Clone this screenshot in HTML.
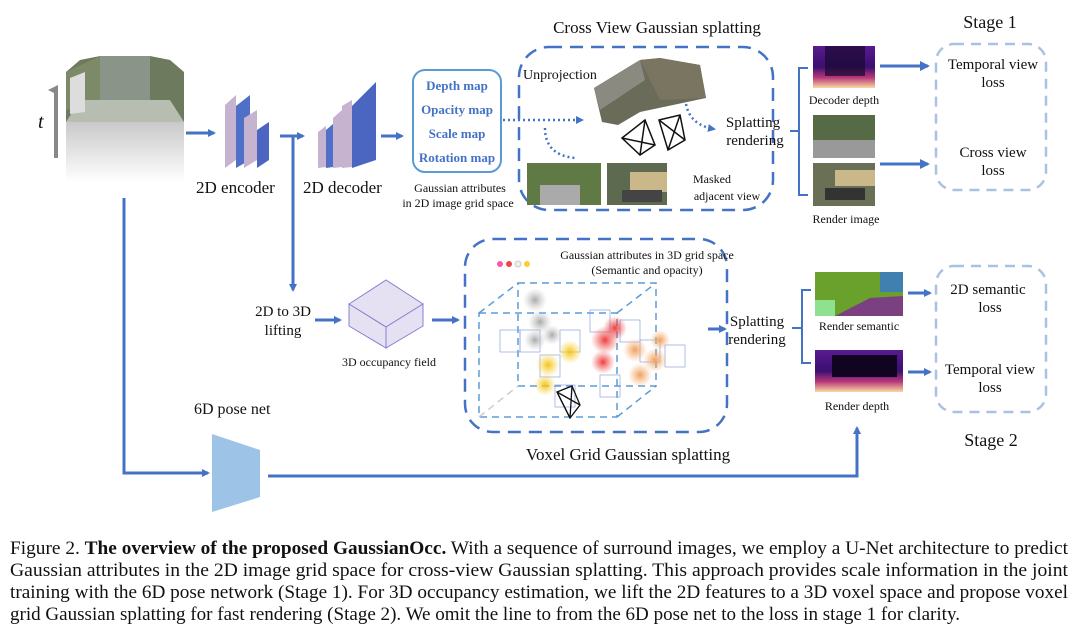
<!DOCTYPE html>
<html><head><meta charset="utf-8"><style>
html,body{margin:0;padding:0;background:#fff;width:1080px;height:632px;overflow:hidden}
svg{display:block}
text{font-family:"Liberation Serif",serif;fill:#111}
.b{fill:#4472C4;font-weight:bold;font-size:13px}
</style></head><body>
<svg width="1080" height="632" viewBox="0 0 1080 632" xmlns="http://www.w3.org/2000/svg">
<defs>
<marker id="ah" markerWidth="8" markerHeight="8" refX="6" refY="4" orient="auto" markerUnits="userSpaceOnUse"><path d="M0,0 L8,4 L0,8 Z" fill="#4472C4"/></marker>
<marker id="ah2" markerWidth="10" markerHeight="10" refX="8" refY="5" orient="auto" markerUnits="userSpaceOnUse"><path d="M0,0 L10,5 L0,10 Z" fill="#4472C4"/></marker>
<marker id="ag" markerWidth="10" markerHeight="10" refX="5" refY="8" orient="auto" markerUnits="userSpaceOnUse"><path d="M0,10 L5,0 L10,10 Z" fill="#888"/></marker>
<linearGradient id="dep" x1="0" y1="0" x2="0" y2="1"><stop offset="0" stop-color="#5a1a90"/><stop offset="0.5" stop-color="#3b0f70"/><stop offset="0.75" stop-color="#b73779"/><stop offset="1" stop-color="#fcd8a0"/></linearGradient>
<linearGradient id="ref" x1="0" y1="0" x2="0" y2="1"><stop offset="0" stop-color="#bbb"/><stop offset="1" stop-color="#fff"/></linearGradient>
<radialGradient id="rg"><stop offset="0" stop-color="#e33" stop-opacity="0.95"/><stop offset="1" stop-color="#e55" stop-opacity="0"/></radialGradient>
<radialGradient id="yg"><stop offset="0" stop-color="#f5c518"/><stop offset="1" stop-color="#f7d44a" stop-opacity="0"/></radialGradient>
<radialGradient id="og"><stop offset="0" stop-color="#f0a060"/><stop offset="1" stop-color="#f5b57a" stop-opacity="0"/></radialGradient>
<radialGradient id="gg"><stop offset="0" stop-color="#aaa"/><stop offset="1" stop-color="#ccc" stop-opacity="0"/></radialGradient>
</defs>

<!-- cylinder images -->
<polygon points="66,72 80,60 100,56 150,56 170,60 184,72 184,122 66,122" fill="#6d7a5e"/>
<polygon points="100,56 150,56 150,100 100,100" fill="#8a9488"/>
<polygon points="66,72 100,56 100,100 66,110" fill="#7d8a6a"/>
<polygon points="80,100 170,100 184,122 66,122" fill="#b7bdb0"/>
<polygon points="70,78 85,72 85,112 70,114" fill="#ddd"/>
<polygon points="66,122 184,122 184,182 66,182" fill="url(#ref)" opacity="0.8"/>
<line x1="56" y1="158" x2="56" y2="90" stroke="#888" stroke-width="4" marker-end="url(#ag)"/>
<text x="38" y="128" font-size="20" font-style="italic">t</text>

<line x1="186" y1="133" x2="214" y2="133" stroke="#4472C4" stroke-width="3" marker-end="url(#ah)"/>
<polygon points="225,105 236,95 236,160 225,168" fill="#c5b3d0"/>
<polygon points="236,106 250,95 250,160 236,168" fill="#5070c8"/>
<polygon points="244,118 257,110 257,160 244,168" fill="#c5b3d0"/>
<polygon points="257,130 269,122 269,160 257,168" fill="#4a66c0"/>
<text x="196" y="193" font-size="17">2D encoder</text>
<line x1="280" y1="136" x2="303" y2="136" stroke="#4472C4" stroke-width="3" marker-end="url(#ah)"/>
<line x1="293" y1="136" x2="293" y2="290" stroke="#4472C4" stroke-width="3" marker-end="url(#ah)"/>
<polygon points="318,132 326,126 326,167 318,168" fill="#c5b3d0"/>
<polygon points="326,130 333,124 333,167 326,168" fill="#5070c8"/>
<polygon points="333,118 342,110 342,167 333,168" fill="#c5b3d0"/>
<polygon points="342,106 352,100 352,167 342,168" fill="#c5b3d0"/>
<polygon points="352,106 376,82 376,160 352,168" fill="#4a66c0"/>
<text x="303" y="193" font-size="17">2D decoder</text>
<line x1="381" y1="136" x2="402" y2="136" stroke="#4472C4" stroke-width="3" marker-end="url(#ah)"/>
<rect x="413" y="70" width="88" height="102" rx="12" fill="#fff" stroke="#5B9BD5" stroke-width="2"/>
<text class="b" x="457" y="90" text-anchor="middle">Depth map</text>
<text class="b" x="457" y="114" text-anchor="middle">Opacity map</text>
<text class="b" x="457" y="138" text-anchor="middle">Scale map</text>
<text class="b" x="457" y="162" text-anchor="middle">Rotation map</text>
<text x="460" y="192" font-size="12" text-anchor="middle">Gaussian attributes</text>
<text x="458" y="207" font-size="12" text-anchor="middle">in 2D image grid space</text>
<line x1="503" y1="120" x2="582" y2="120" stroke="#4472C4" stroke-width="2.5" stroke-dasharray="2,3" marker-end="url(#ah)"/>

<text x="657" y="33" font-size="17" text-anchor="middle">Cross View Gaussian splatting</text>
<rect x="519" y="47" width="254" height="163" rx="30" fill="none" stroke="#4472C4" stroke-width="2.5" stroke-dasharray="13,8"/>
<text x="523" y="79" font-size="14">Unprojection</text>
<polygon points="594,88 640,60 660,58 700,65 706,98 640,112 618,125 602,122" fill="#6b6b5a"/>
<polygon points="640,60 660,58 700,65 706,98 660,100" fill="#7a7560"/>
<polygon points="594,88 640,60 645,80 600,110" fill="#8a8a80"/>
<g stroke="#111" stroke-width="1.5" fill="none">
<polygon points="622,138 645,120 655,145 640,155"/><line x1="645" y1="120" x2="640" y2="155"/><line x1="622" y1="138" x2="655" y2="145"/>
<polygon points="659,120 680,115 685,140 668,150"/><line x1="659" y1="120" x2="685" y2="140"/><line x1="680" y1="115" x2="668" y2="150"/>
</g>
<path d="M545,128 Q545,155 575,158" fill="none" stroke="#4472C4" stroke-width="2.5" stroke-dasharray="2,3"/>
<path d="M686,104 Q690,125 714,129" fill="none" stroke="#4472C4" stroke-width="2.5" stroke-dasharray="2,3" marker-end="url(#ah)"/>
<text x="753" y="127" font-size="15" text-anchor="middle">Splatting</text>
<text x="755" y="145" font-size="15" text-anchor="middle">rendering</text>
<rect x="527" y="163" width="74" height="42" fill="#5f7a45"/><rect x="540" y="185" width="40" height="20" fill="#aaa"/>
<rect x="607" y="163" width="60" height="42" fill="#5e6a50"/><rect x="630" y="172" width="37" height="20" fill="#cbb88a"/><rect x="622" y="190" width="40" height="12" fill="#444"/>
<text x="712" y="183" font-size="12" text-anchor="middle">Masked</text>
<text x="727" y="200" font-size="12" text-anchor="middle">adjacent view</text>

<path d="M808,68 L799,68 L799,195 L808,195 M790,131 L799,131" fill="none" stroke="#4472C4" stroke-width="2"/>
<rect x="813" y="46" width="62" height="42" fill="url(#dep)"/>
<rect x="825" y="46" width="40" height="30" fill="#1a0830" opacity="0.7"/>
<text x="844" y="104" font-size="12" text-anchor="middle">Decoder depth</text>
<rect x="813" y="115" width="62" height="43" fill="#566a45"/><rect x="813" y="140" width="62" height="18" fill="#999"/>
<rect x="813" y="163" width="62" height="43" fill="#6a7055"/><rect x="835" y="170" width="40" height="16" fill="#cbb88a"/><rect x="825" y="188" width="40" height="12" fill="#333"/>
<text x="846" y="223" font-size="12" text-anchor="middle">Render image</text>
<line x1="880" y1="66" x2="928" y2="66" stroke="#4472C4" stroke-width="3" marker-end="url(#ah2)"/>
<line x1="880" y1="164" x2="928" y2="164" stroke="#4472C4" stroke-width="3" marker-end="url(#ah2)"/>
<text x="990" y="28" font-size="18" text-anchor="middle">Stage 1</text>
<rect x="936" y="44" width="110" height="146" rx="18" fill="none" stroke="#A9C1E3" stroke-width="2.5" stroke-dasharray="10,7"/>
<text x="993" y="69" font-size="15" text-anchor="middle">Temporal view</text>
<text x="993" y="87" font-size="15" text-anchor="middle">loss</text>
<text x="993" y="157" font-size="15" text-anchor="middle">Cross view</text>
<text x="993" y="175" font-size="15" text-anchor="middle">loss</text>

<path d="M124,198 L124,473 L208,473" fill="none" stroke="#4472C4" stroke-width="3" marker-end="url(#ah)"/>
<polygon points="212,434 260,450 260,497 212,512" fill="#9DC3E6"/>
<text x="194" y="414" font-size="16">6D pose net</text>
<path d="M268,476 L857,476 L857,428" fill="none" stroke="#4472C4" stroke-width="3" marker-end="url(#ah)"/>
<text x="283" y="316" font-size="15" text-anchor="middle">2D to 3D</text>
<text x="283" y="335" font-size="15" text-anchor="middle">lifting</text>
<line x1="315" y1="320" x2="340" y2="320" stroke="#4472C4" stroke-width="3" marker-end="url(#ah)"/>
<g stroke="#8a80d0" stroke-width="1" fill="#e6e0f3">
<polygon points="349,304 386,280 423,304 386,327"/>
<polygon points="349,304 386,327 386,348 349,326"/>
<polygon points="423,304 386,327 386,348 423,326"/>
</g>
<text x="389" y="366" font-size="12" text-anchor="middle">3D occupancy field</text>
<line x1="432" y1="320" x2="458" y2="320" stroke="#4472C4" stroke-width="3" marker-end="url(#ah)"/>

<rect x="465" y="239" width="262" height="193" rx="28" fill="none" stroke="#4472C4" stroke-width="2.5" stroke-dasharray="13,8"/>
<text x="647" y="259" font-size="12" text-anchor="middle">Gaussian attributes in 3D grid space</text>
<text x="647" y="274" font-size="12" text-anchor="middle">(Semantic and opacity)</text>
<circle cx="500" cy="264" r="3" fill="#f5a"/><circle cx="509" cy="264" r="3" fill="#e44"/><circle cx="518" cy="264" r="3" fill="#eee" stroke="#ccc"/><circle cx="527" cy="264" r="3" fill="#fc3"/>
<g fill="none" stroke="#5B9BD5" stroke-width="1.5" stroke-dasharray="7,5">
<rect x="518" y="283" width="138" height="103"/>
<rect x="479" y="313" width="138" height="104"/>
<line x1="479" y1="313" x2="518" y2="283"/><line x1="617" y1="313" x2="656" y2="283"/><line x1="617" y1="417" x2="656" y2="386"/>
</g>
<line x1="479" y1="417" x2="518" y2="386" stroke="#ccc" stroke-width="1.5" stroke-dasharray="7,5"/>
<g fill="none" stroke="#8aa4e0" stroke-width="0.7">
<rect x="500" y="330" width="20" height="22"/><rect x="520" y="330" width="20" height="22"/><rect x="540" y="355" width="20" height="22"/>
<rect x="560" y="330" width="20" height="22"/><rect x="590" y="310" width="20" height="22"/><rect x="620" y="320" width="20" height="22"/>
<rect x="640" y="340" width="20" height="22"/><rect x="665" y="345" width="20" height="22"/><rect x="555" y="385" width="20" height="22"/><rect x="600" y="375" width="20" height="22"/>
</g>
<g>
<circle cx="535" cy="300" r="12" fill="url(#gg)"/><circle cx="540" cy="322" r="12" fill="url(#gg)"/><circle cx="535" cy="340" r="11" fill="url(#gg)"/><circle cx="552" cy="335" r="10" fill="url(#gg)"/>
<circle cx="548" cy="365" r="12" fill="url(#yg)"/><circle cx="570" cy="352" r="12" fill="url(#yg)"/><circle cx="545" cy="385" r="11" fill="url(#yg)"/>
<circle cx="605" cy="340" r="14" fill="url(#rg)"/><circle cx="615" cy="328" r="12" fill="url(#rg)"/><circle cx="603" cy="362" r="12" fill="url(#rg)"/>
<circle cx="635" cy="350" r="12" fill="url(#og)"/><circle cx="655" cy="360" r="12" fill="url(#og)"/><circle cx="640" cy="375" r="12" fill="url(#og)"/><circle cx="660" cy="340" r="10" fill="url(#og)"/>
</g>
<g stroke="#111" stroke-width="1.3" fill="none"><polygon points="557,392 572,386 580,405 570,418"/><line x1="557" y1="392" x2="570" y2="418"/><line x1="572" y1="386" x2="570" y2="418"/><line x1="557" y1="392" x2="580" y2="405"/></g>
<text x="628" y="460" font-size="17" text-anchor="middle">Voxel Grid Gaussian splatting</text>
<line x1="708" y1="329" x2="725" y2="329" stroke="#4472C4" stroke-width="3" marker-end="url(#ah)"/>
<text x="757" y="326" font-size="15" text-anchor="middle">Splatting</text>
<text x="757" y="344" font-size="15" text-anchor="middle">rendering</text>
<path d="M811,290 L802,290 L802,363 L811,363 M792,328 L802,328" fill="none" stroke="#4472C4" stroke-width="2"/>
<rect x="815" y="272" width="88" height="44" fill="#6aa02c"/>
<polygon points="835,316 870,298 903,296 903,316" fill="#7a4080"/>
<rect x="880" y="272" width="23" height="20" fill="#4080b0"/><rect x="815" y="300" width="20" height="16" fill="#8fe08f"/>
<text x="859" y="330" font-size="12" text-anchor="middle">Render semantic</text>
<rect x="815" y="350" width="88" height="42" fill="url(#dep)"/><rect x="832" y="355" width="65" height="22" fill="#100420"/>
<text x="857" y="410" font-size="12" text-anchor="middle">Render depth</text>
<line x1="908" y1="293" x2="930" y2="293" stroke="#4472C4" stroke-width="3" marker-end="url(#ah)"/>
<line x1="908" y1="372" x2="930" y2="372" stroke="#4472C4" stroke-width="3" marker-end="url(#ah)"/>
<rect x="936" y="266" width="110" height="146" rx="18" fill="none" stroke="#A9C1E3" stroke-width="2.5" stroke-dasharray="10,7"/>
<text x="988" y="294" font-size="15" text-anchor="middle">2D semantic</text>
<text x="990" y="312" font-size="15" text-anchor="middle">loss</text>
<text x="990" y="374" font-size="15" text-anchor="middle">Temporal view</text>
<text x="990" y="392" font-size="15" text-anchor="middle">loss</text>
<text x="991" y="446" font-size="18" text-anchor="middle">Stage 2</text>

<text x="10" y="554" font-size="19" textLength="1058" lengthAdjust="spacingAndGlyphs">Figure 2. <tspan font-weight="bold">The overview of the proposed GaussianOcc.</tspan> With a sequence of surround images, we employ a U-Net architecture to predict</text>
<text x="10" y="576" font-size="19" textLength="1058" lengthAdjust="spacingAndGlyphs">Gaussian attributes in the 2D image grid space for cross-view Gaussian splatting.  This approach provides scale information in the joint</text>
<text x="10" y="598" font-size="19" textLength="1058" lengthAdjust="spacingAndGlyphs">training with the 6D pose network (Stage 1). For 3D occupancy estimation, we lift the 2D features to a 3D voxel space and propose voxel</text>
<text x="10" y="620" font-size="19" textLength="950" lengthAdjust="spacingAndGlyphs">grid Gaussian splatting for fast rendering (Stage 2). We omit the line to from the 6D pose net to the loss in stage 1 for clarity.</text>
</svg>
</body></html>
